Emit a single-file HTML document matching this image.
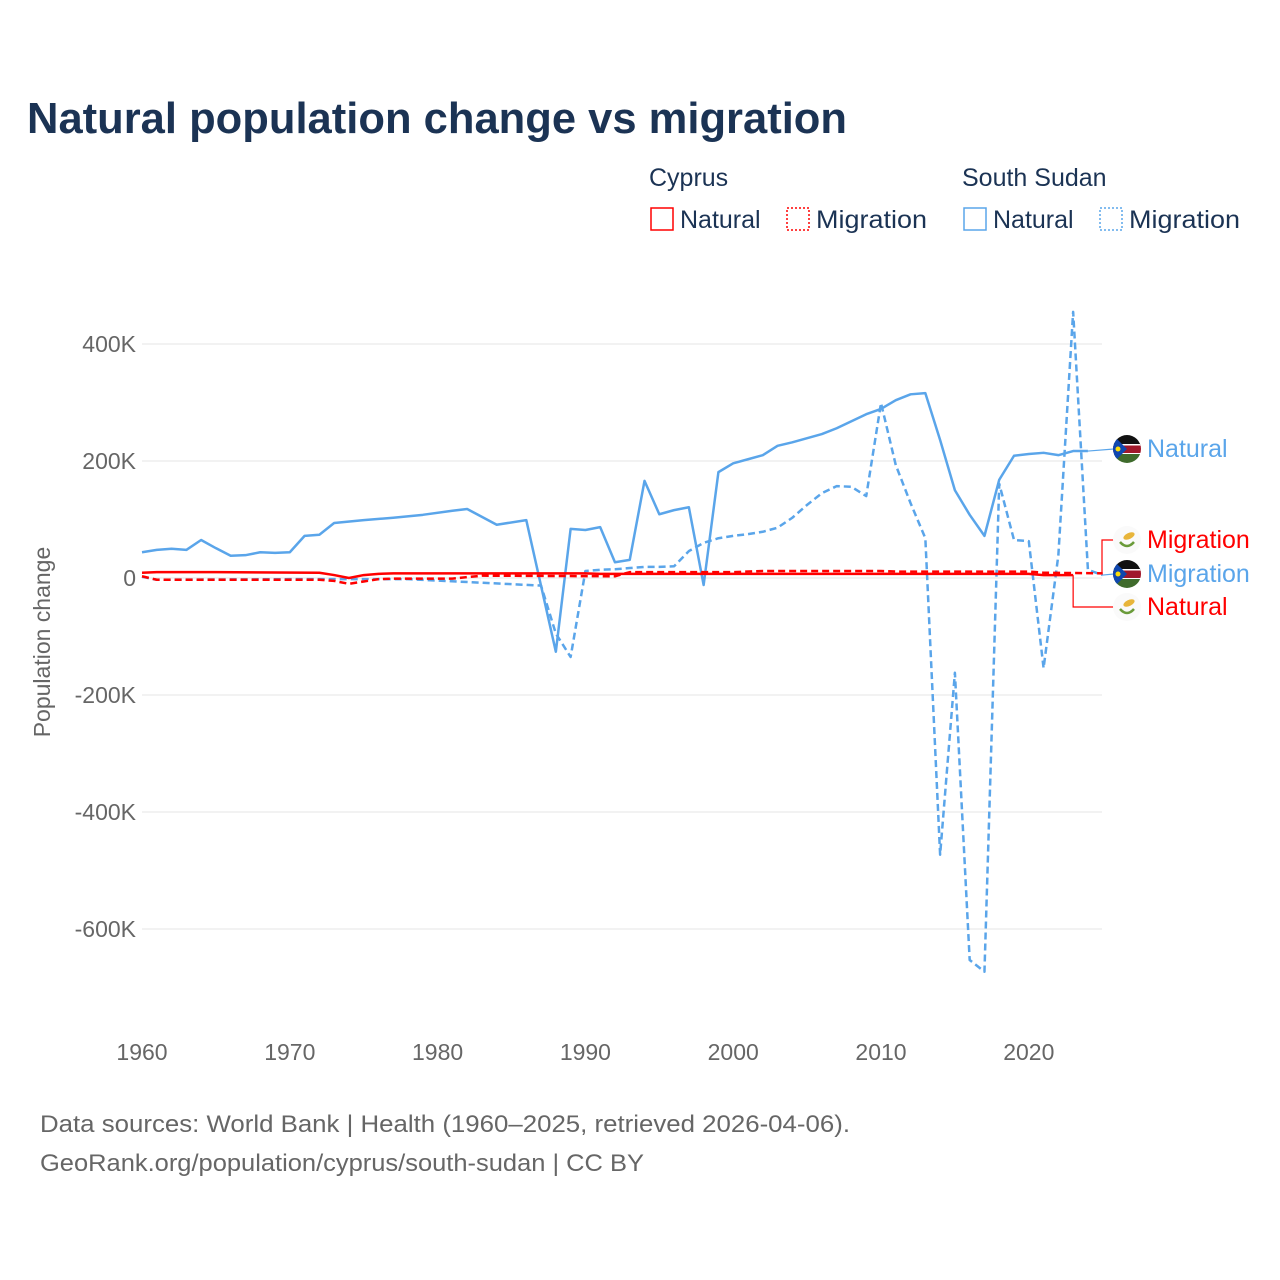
<!DOCTYPE html>
<html><head><meta charset="utf-8"><style>
body{margin:0;background:#fff;font-family:"Liberation Sans",sans-serif}
svg{display:block}
</style></head><body>
<svg id="c" width="1280" height="1280" viewBox="0 0 1280 1280">
<text x="27" y="133" font-size="44" font-weight="bold" fill="#1b3354" textLength="820" lengthAdjust="spacingAndGlyphs">Natural population change vs migration</text>
<g font-size="25" fill="#1b3354">
<text x="649" y="186">Cyprus</text><text x="962" y="186">South Sudan</text>
<g><rect x="651" y="208" width="22" height="22" fill="none" stroke="#f00" stroke-width="1.5"/><text x="680" y="228">Natural</text></g>
<g><rect x="787" y="208" width="22" height="22" fill="none" stroke="#f00" stroke-width="1.5" stroke-dasharray="2 2"/><text x="816" y="228" textLength="111" lengthAdjust="spacingAndGlyphs">Migration</text></g>
<g><rect x="964" y="208" width="22" height="22" fill="none" stroke="#5aa5ea" stroke-width="1.5"/><text x="993" y="228">Natural</text></g>
<g><rect x="1100" y="208" width="22" height="22" fill="none" stroke="#5aa5ea" stroke-width="1.5" stroke-dasharray="2 2"/><text x="1129" y="228" textLength="111" lengthAdjust="spacingAndGlyphs">Migration</text></g>
</g>
<g id="grid"></g>
<g id="series"></g>
<text transform="translate(50,642) rotate(-90)" text-anchor="middle" font-size="23" fill="#666">Population change</text>
<g id="labels"></g>
<text x="40" y="1132" font-size="24" fill="#666" textLength="810" lengthAdjust="spacingAndGlyphs">Data sources: World Bank | Health (1960–2025, retrieved 2026-04-06).</text>
<text x="40" y="1171" font-size="24" fill="#666" textLength="604" lengthAdjust="spacingAndGlyphs">GeoRank.org/population/cyprus/south-sudan | CC BY</text>
</svg>
<script>
const yTicks=[400,200,0,-200,-400,-600];
const yTickLabels=["400K","200K","0","-200K","-400K","-600K"];
const xTicks=[1960,1970,1980,1990,2000,2010,2020];
const ssNatYears=[1960,1961,1962,1963,1964,1965,1966,1967,1968,1969,1970,1971,1972,1973,1975,1977,1979,1981,1982,1984,1986,1988,1989,1990,1991,1992,1993,1994,1995,1996,1997,1998,1999,2000,2001,2002,2003,2004,2005,2006,2007,2008,2009,2010,2011,2012,2013,2014,2015,2016,2017,2018,2019,2020,2021,2022,2023,2024];
const ssNat=[44,48,50,48,65,51,38,39,44,43,44,72,74,94,99,103,108,115,118,91,99,-126,84,82,87,27,31,166,109,116,121,-12,181,196,203,210,226,232,239,246,256,268,280,289,304,314,316,236,150,108,72,168,209,212,214,210,217,217];
const ssMigYears=[1960,1961,1970,1978,1987,1988,1989,1990,1991,1992,1993,1994,1995,1996,1997,1998,1999,2000,2001,2002,2003,2004,2005,2006,2007,2008,2009,2010,2011,2012,2013,2014,2015,2016,2017,2018,2019,2020,2021,2022,2023,2024,2025];
const ssMig=[2,-3,-2,-2,-13,-95,-135,12,14,15,17,19,19,20,46,60,68,72,75,79,86,103,125,145,157,156,140,299,193,128,68,-473,-162,-653,-673,161,65,63,-154,39,455,14,5];
const cyNatYears=[1960,1961,1965,1972,1973,1974,1975,1976,1977,1990,1991,2020,2021,2023];
const cyNat=[9,10,10,9,5,0,5,7,8,8,7,7,5,5];
const cyMigYears=[1960,1961,1972,1973,1974,1975,1976,1977,1981,1983,1992,1993,2000,2002,2010,2011,2020,2021,2025];
const cyMig=[3,-3,-3,-5,-10,-6,-2,-1,-1,4,3,10,10,12,12,11,11,9,8];
const X=y=>142+(y-1960)*14.78;
const Y=v=>578-v*0.585;
const NS="http://www.w3.org/2000/svg";
function mk(t,a,p){const e=document.createElementNS(NS,t);for(const k in a)e.setAttribute(k,a[k]);p.appendChild(e);return e;}
const g=document.getElementById('grid');
yTicks.forEach((v,i)=>{
 const l=mk('line',{x1:142,x2:1102,y1:Y(v),y2:Y(v),stroke:'#e6e6e6','stroke-width':1},g);
 
 
 const t=mk('text',{x:136,y:Y(v)+8,'text-anchor':'end','font-size':23,fill:'#666'},g);
 t.textContent=yTickLabels[i];
 
 
});
xTicks.forEach(yr=>{
 const t=mk('text',{x:X(yr),y:1060,'text-anchor':'middle','font-size':23,fill:'#666'},g);
 t.textContent=yr;
 
 
});
const s=document.getElementById('series');
function line(xs,vs,col,dash,name){
 const p=mk('polyline',{points:xs.map((x,i)=>X(x)+','+Y(vs[i])).join(' '),fill:'none',stroke:col,'stroke-width':2.5,'stroke-linejoin':'round'},s);
 if(dash)p.setAttribute('stroke-dasharray','7 4');
 
 
}
line(ssNatYears,ssNat,'#5aa5ea',false,'line-south-sudan-natural');
line(ssMigYears,ssMig,'#5aa5ea',true,'line-south-sudan-migration');
line(cyNatYears,cyNat,'#f00',false,'line-cyprus-natural');
line(cyMigYears,cyMig,'#f00',true,'line-cyprus-migration');
const L=document.getElementById('labels');
mk('polyline',{points:`${X(2024)},${Y(ssNat[ssNat.length-1])} 1114,449`,fill:'none',stroke:'#5aa5ea','stroke-width':1.2},L);
mk('polyline',{points:`${X(2025)},${Y(ssMig[ssMig.length-1])} 1114,574`,fill:'none',stroke:'#5aa5ea','stroke-width':1.2},L);
mk('polyline',{points:`${X(2023)},${Y(cyNat[cyNat.length-1])} ${X(2023)},607 1114,607`,fill:'none',stroke:'#f00','stroke-width':1.2},L);
mk('polyline',{points:`${X(2025)-5},${Y(cyMig[cyMig.length-1])} 1102,${Y(cyMig[cyMig.length-1])} 1102,540 1114,540`,fill:'none',stroke:'#f00','stroke-width':1.2},L);
function ssFlag(cy,name){
 const gg=mk('g',{},L);
 
 
 const id='cl'+cy;
 const cp=mk('clipPath',{id:id},gg);mk('circle',{cx:1127,cy:cy,r:14},cp);
 const h=mk('g',{'clip-path':`url(#${id})`},gg);
 mk('rect',{x:1113,y:cy-14,width:28,height:10,fill:'#111'},h);
 mk('rect',{x:1113,y:cy-4,width:28,height:8,fill:'#a0182b'},h);
 mk('rect',{x:1113,y:cy-5,width:28,height:1.5,fill:'#fff'},h);
 mk('rect',{x:1113,y:cy+4,width:28,height:1.5,fill:'#fff'},h);
 mk('rect',{x:1113,y:cy+5,width:28,height:9,fill:'#3f6b2c'},h);
 mk('polygon',{points:`1113,${cy-14} 1127,${cy} 1113,${cy+14}`,fill:'#0f47af'},h);
 mk('circle',{cx:1118,cy:cy,r:2.5,fill:'#fcdd09'},h);
}
function cyFlag(cy,name){
 const gg=mk('g',{},L);
 
 
 mk('circle',{cx:1127,cy:cy,r:14,fill:'#fafafa'},gg);
 mk('ellipse',{cx:1129,cy:cy-4,rx:6,ry:3,fill:'#e8b53a',transform:`rotate(-25 1129 ${cy-4})`},gg);
 mk('path',{d:`M1120 ${cy+2} Q1127 ${cy+10} 1134 ${cy+2}`,fill:'none',stroke:'#6a9b3a','stroke-width':2.5},gg);
}
ssFlag(449,'flag-south-sudan');ssFlag(574,'flag-south-sudan');
cyFlag(540,'flag-cyprus');cyFlag(607,'flag-cyprus');
[[449,'Natural','#5aa5ea','label-south-sudan-natural'],[540,'Migration','#f00','label-cyprus-migration'],[574,'Migration','#5aa5ea','label-south-sudan-migration'],[607,'Natural','#f00','label-cyprus-natural']].forEach(a=>{
 const t=mk('text',{x:1147,y:a[0]+8,'font-size':25,fill:a[2]},L);
 t.textContent=a[1];
 
 
});
</script>
</body></html>
